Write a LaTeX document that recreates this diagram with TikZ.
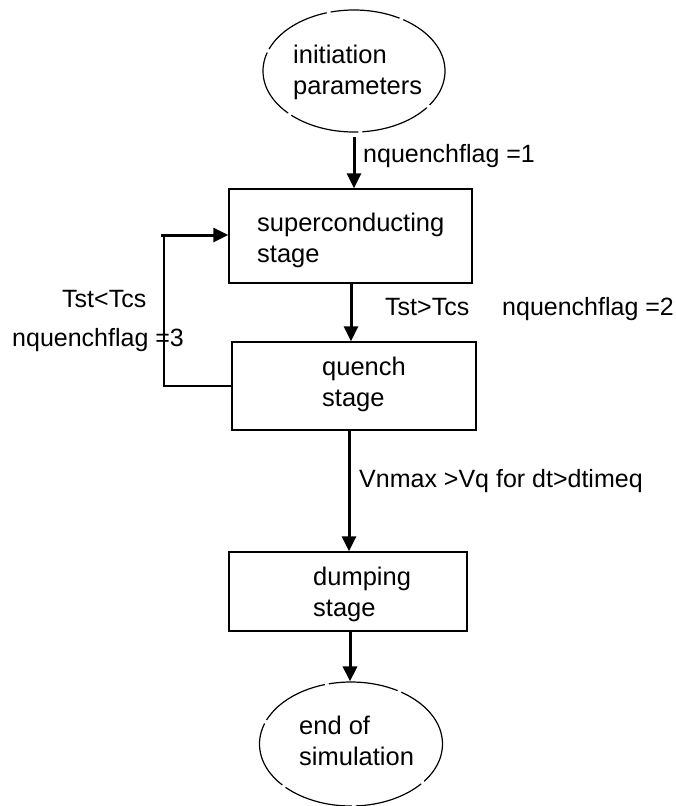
\documentclass[tikz,border=0pt]{standalone}
\usepackage{fontspec}
\setmainfont{Liberation Sans}
\usetikzlibrary{arrows.meta,shapes.geometric}
\begin{document}
\begin{tikzpicture}[x=1pt,y=-1pt,
  txt/.style={font=\fontsize{25.5}{31}\selectfont, inner sep=0pt, align=left},
  lbl/.style={font=\fontsize{25}{30}\selectfont, inner sep=0pt},
  stagebox/.style={draw, line width=1.3pt, rectangle, inner sep=0pt},
  termel/.style={draw, ellipse, line width=1.2pt, inner sep=0pt, dash pattern=on 70pt off 4pt},
  flow/.style={line width=3pt, -{Triangle[length=15pt,width=14pt]}},
  thin/.style={line width=1.3pt}]
\useasboundingbox (0,0) rectangle (676,806);
% shapes
\node[termel, minimum width=182pt, minimum height=122pt] (init) at (354,71) {};
\node[stagebox, minimum width=243pt, minimum height=94pt] (S) at (350.5,236) {};
\node[stagebox, minimum width=244pt, minimum height=88pt] (Q) at (354,386) {};
\node[stagebox, minimum width=238pt, minimum height=79pt] (D) at (348,591.5) {};
\node[termel, minimum width=183pt, minimum height=124pt] (fin) at (351,744) {};
% texts
\node[txt, anchor=west] (tinit) at (293,72) {initiation\\parameters};
\node[txt, anchor=west] (tS) at (257,240) {superconducting\\stage};
\node[txt, anchor=west] (tQ) at (322,384) {quench\\stage};
\node[txt, anchor=west] (tD) at (313,594.5) {dumping\\stage};
\node[txt, anchor=west] (tfin) at (299,740.5) {end of\\simulation};
% labels
\node[lbl, anchor=base west] (l1) at (363,162) {nquenchflag =1};
\node[lbl, anchor=base west] (l2) at (385,315) {Tst>Tcs};
\node[lbl, anchor=base west] (l3) at (502,315) {nquenchflag =2};
\node[lbl, anchor=base west] (l4) at (62,307) {Tst<Tcs};
\node[lbl, anchor=base west] (l5) at (12,346) {nquenchflag =3};
\node[lbl, anchor=base west] (l6) at (359,487) {Vnmax >Vq for dt>dtimeq};
% connectors
\coordinate (a1) at (354,137);
\draw[flow] (a1) -- (S.north -| a1);
\coordinate (a2) at (351,283);
\draw[flow] (a2) -- (Q.north -| a2);
\coordinate (a3) at (349,430);
\draw[flow] (a3) -- (D.north -| a3);
\coordinate (a4) at (350,631);
\draw[flow] (a4) -- (fin.north -| a4);
% loop back
\coordinate (lc) at (164,235);
\coordinate (lt) at (161,235);
\draw[thin] (Q.west) -| (lc);
\draw[flow] (lt) -- (S.west |- lt);
\end{tikzpicture}
\end{document}
